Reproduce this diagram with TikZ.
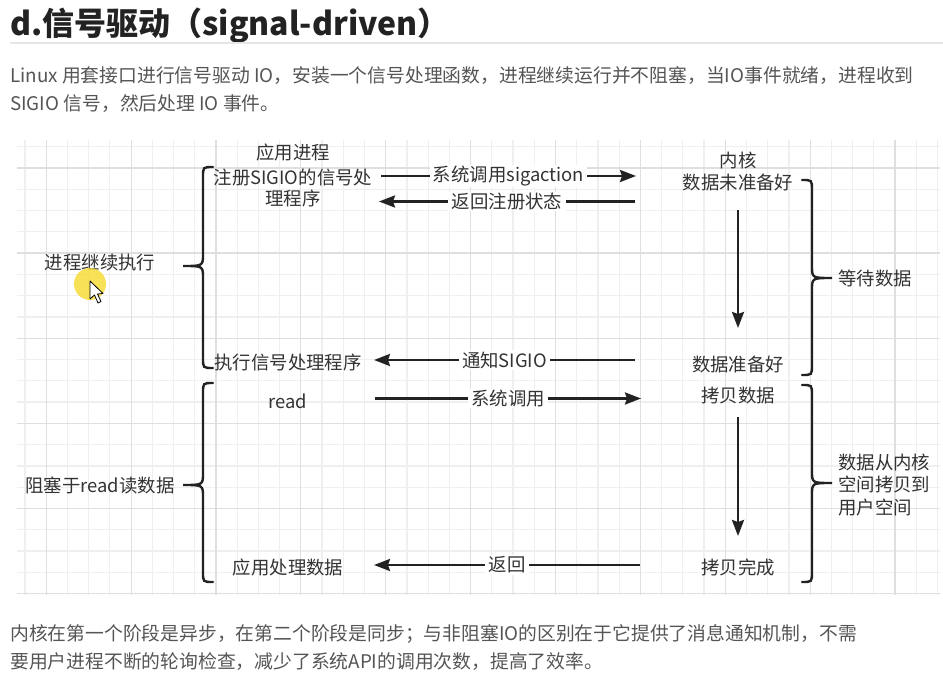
\documentclass[tikz,border=0pt]{standalone}
\usepackage{fontspec}
\setmainfont{Noto Sans CJK SC}
\usetikzlibrary{arrows.meta}
\definecolor{gridminor}{HTML}{EFEFEF}
\definecolor{gridmajor}{HTML}{DFDFDF}
\definecolor{ink}{HTML}{222222}
\definecolor{dtxt}{HTML}{333333}
\definecolor{para}{HTML}{555555}
\definecolor{titlec}{HTML}{222222}
\definecolor{rulec}{HTML}{E6E6E6}
\definecolor{hilite}{HTML}{F6DA2E}
\newcommand\BraceShape[6]{% xe xv xt ytop ym ybot
  \draw[bracestyle] (#1,#4) .. controls (#2,#4) .. ({#2},{#4+10}) -- ({#2},{#5-12})
    .. controls (#2,#5) .. (#3,#5) .. controls (#2,#5) .. ({#2},{#5+12})
    -- ({#2},{#6-10}) .. controls (#2,#6) .. (#1,#6);}
\begin{document}
\begin{tikzpicture}[x=0.75pt,y=-0.75pt,
  dtext/.style={inner sep=0pt, text=dtxt, font=\fontsize{13.8pt}{16pt}\selectfont, align=center},
  lbl/.style={fill=white, inner xsep=2.5pt, inner ysep=1pt, text=dtxt, font=\fontsize{13.8pt}{16pt}\selectfont},
  arr/.style={draw=ink, line width=1.8pt, -{Stealth[length=12pt, width=9pt, inset=1.5pt]}},
  bracestyle/.style={draw=ink, line width=1.8pt, line cap=round},
  paratext/.style={anchor=base west, inner sep=0pt, text=para, font=\fontsize{14.1pt}{18pt}\selectfont}]
\useasboundingbox (0,0) rectangle (943,677);
\fill[white] (0,0) rectangle (943,677);
% title
\node[anchor=base west, inner sep=0pt, text=titlec, font=\fontsize{24pt}{27pt}\selectfont\bfseries] (title) at (10,36) {d.信号驱动（signal-driven）};
\draw[rulec, line width=0.8pt] (10,43) -- (943,43);
\node[paratext] (p1) at (10,83) {Linux 用套接口进行信号驱动 IO，安装一个信号处理函数，进程继续运行并不阻塞，当IO事件就绪，进程收到};
\node[paratext] (p2) at (10,111) {SIGIO 信号，然后处理 IO 事件。};
% grid
\begin{scope}
\clip (17,140) rectangle (940,594.5);
\foreach \k in {0,...,43} {\draw[gridminor, line width=0.9pt] ({25+21.22*\k},140) -- ({25+21.22*\k},595);}
\foreach \k in {0,...,21} {\draw[gridminor, line width=0.9pt] (17,{146.7+21.28*\k}) -- (940,{146.7+21.28*\k});}
\foreach \k in {1,5,...,41} {\draw[gridmajor, line width=0.9pt] ({25+21.22*\k},140) -- ({25+21.22*\k},595);}
\foreach \k in {1,5,...,21} {\draw[gridmajor, line width=0.9pt] (17,{146.7+21.28*\k}) -- (940,{146.7+21.28*\k});}
\end{scope}
% left texts
\node[dtext] (app) at (293,153) {应用进程};
\node[dtext, font=\fontsize{13.8pt}{15.3pt}\selectfont] (reg) at (293,188) {注册SIGIO的信号处\\理程序};
\node[dtext] (cont) at (100,263) {进程继续执行};
\node[dtext] (exec) at (288,362) {执行信号处理程序};
\node[dtext] (read) at (288,401) {read};
\node[dtext] (proc) at (288,567) {应用处理数据};
\node[dtext] (block) at (100,485) {阻塞于read读数据};
% kernel texts
\node[dtext] (kern) at (738,160) {内核};
\node[dtext] (notready) at (738,183) {数据未准备好};
\node[dtext] (ready) at (738,365) {数据准备好};
\node[dtext] (copy) at (738,396) {拷贝数据};
\node[dtext] (copied) at (738,567) {拷贝完成};
\node[dtext] (wait) at (875,278) {等待数据};
\node[dtext, anchor=west, align=left, font=\fontsize{13.8pt}{16.9pt}\selectfont] (move) at (838,485) {数据从内核\\空间拷贝到\\用户空间};
% braces
\BraceShape{213}{203}{183}{167}{266}{368}
\BraceShape{213}{203}{183}{383}{485}{582}
\BraceShape{802}{812}{832}{180}{278}{375}
\BraceShape{802}{812}{832}{385}{483}{582}
% arrow end points
\coordinate (a1s) at (381,176); \coordinate (a1e) at (636,176);
\coordinate (a2s) at (635,201.5); \coordinate (a2e) at (379,201.5);
\coordinate (a3s) at (635,360); \coordinate (a3e) at (374,360);
\coordinate (a4s) at (375,398.5); \coordinate (a4e) at (641,398.5);
\coordinate (a5s) at (640,565); \coordinate (a5e) at (374,565);
\coordinate (d1s) at (738,210); \coordinate (d1e) at (738,328);
\coordinate (d2s) at (738,417); \coordinate (d2e) at (738,536);
\draw[arr] (a1s) -- node[lbl] (l1) {系统调用sigaction} (a1e);
\draw[arr] (a2s) -- node[lbl] (l2) {返回注册状态} (a2e);
\draw[arr] (a3s) -- node[lbl] (l3) {通知SIGIO} (a3e);
\draw[arr] (a4s) -- node[lbl] (l4) {系统调用} (a4e);
\draw[arr] (a5s) -- node[lbl] (l5) {返回} (a5e);
\draw[arr] (d1s) -- (d1e);
\draw[arr] (d2s) -- (d2e);
% cursor highlight
\fill[hilite, opacity=0.8] (90,284) circle (16);
\draw[black, line width=0.6pt, fill=white, line join=round]
  (90,281) -- (90,299) -- (94.5,295) -- (98,303) -- (101,301.5) -- (97.5,294) -- (103,293.5) -- cycle;
% bottom paragraph
\node[paratext] (p3) at (10,640) {内核在第一个阶段是异步，在第二个阶段是同步；与非阻塞IO的区别在于它提供了消息通知机制，不需};
\node[paratext] (p4) at (10,668) {要用户进程不断的轮询检查，减少了系统API的调用次数，提高了效率。};
\end{tikzpicture}
\end{document}
